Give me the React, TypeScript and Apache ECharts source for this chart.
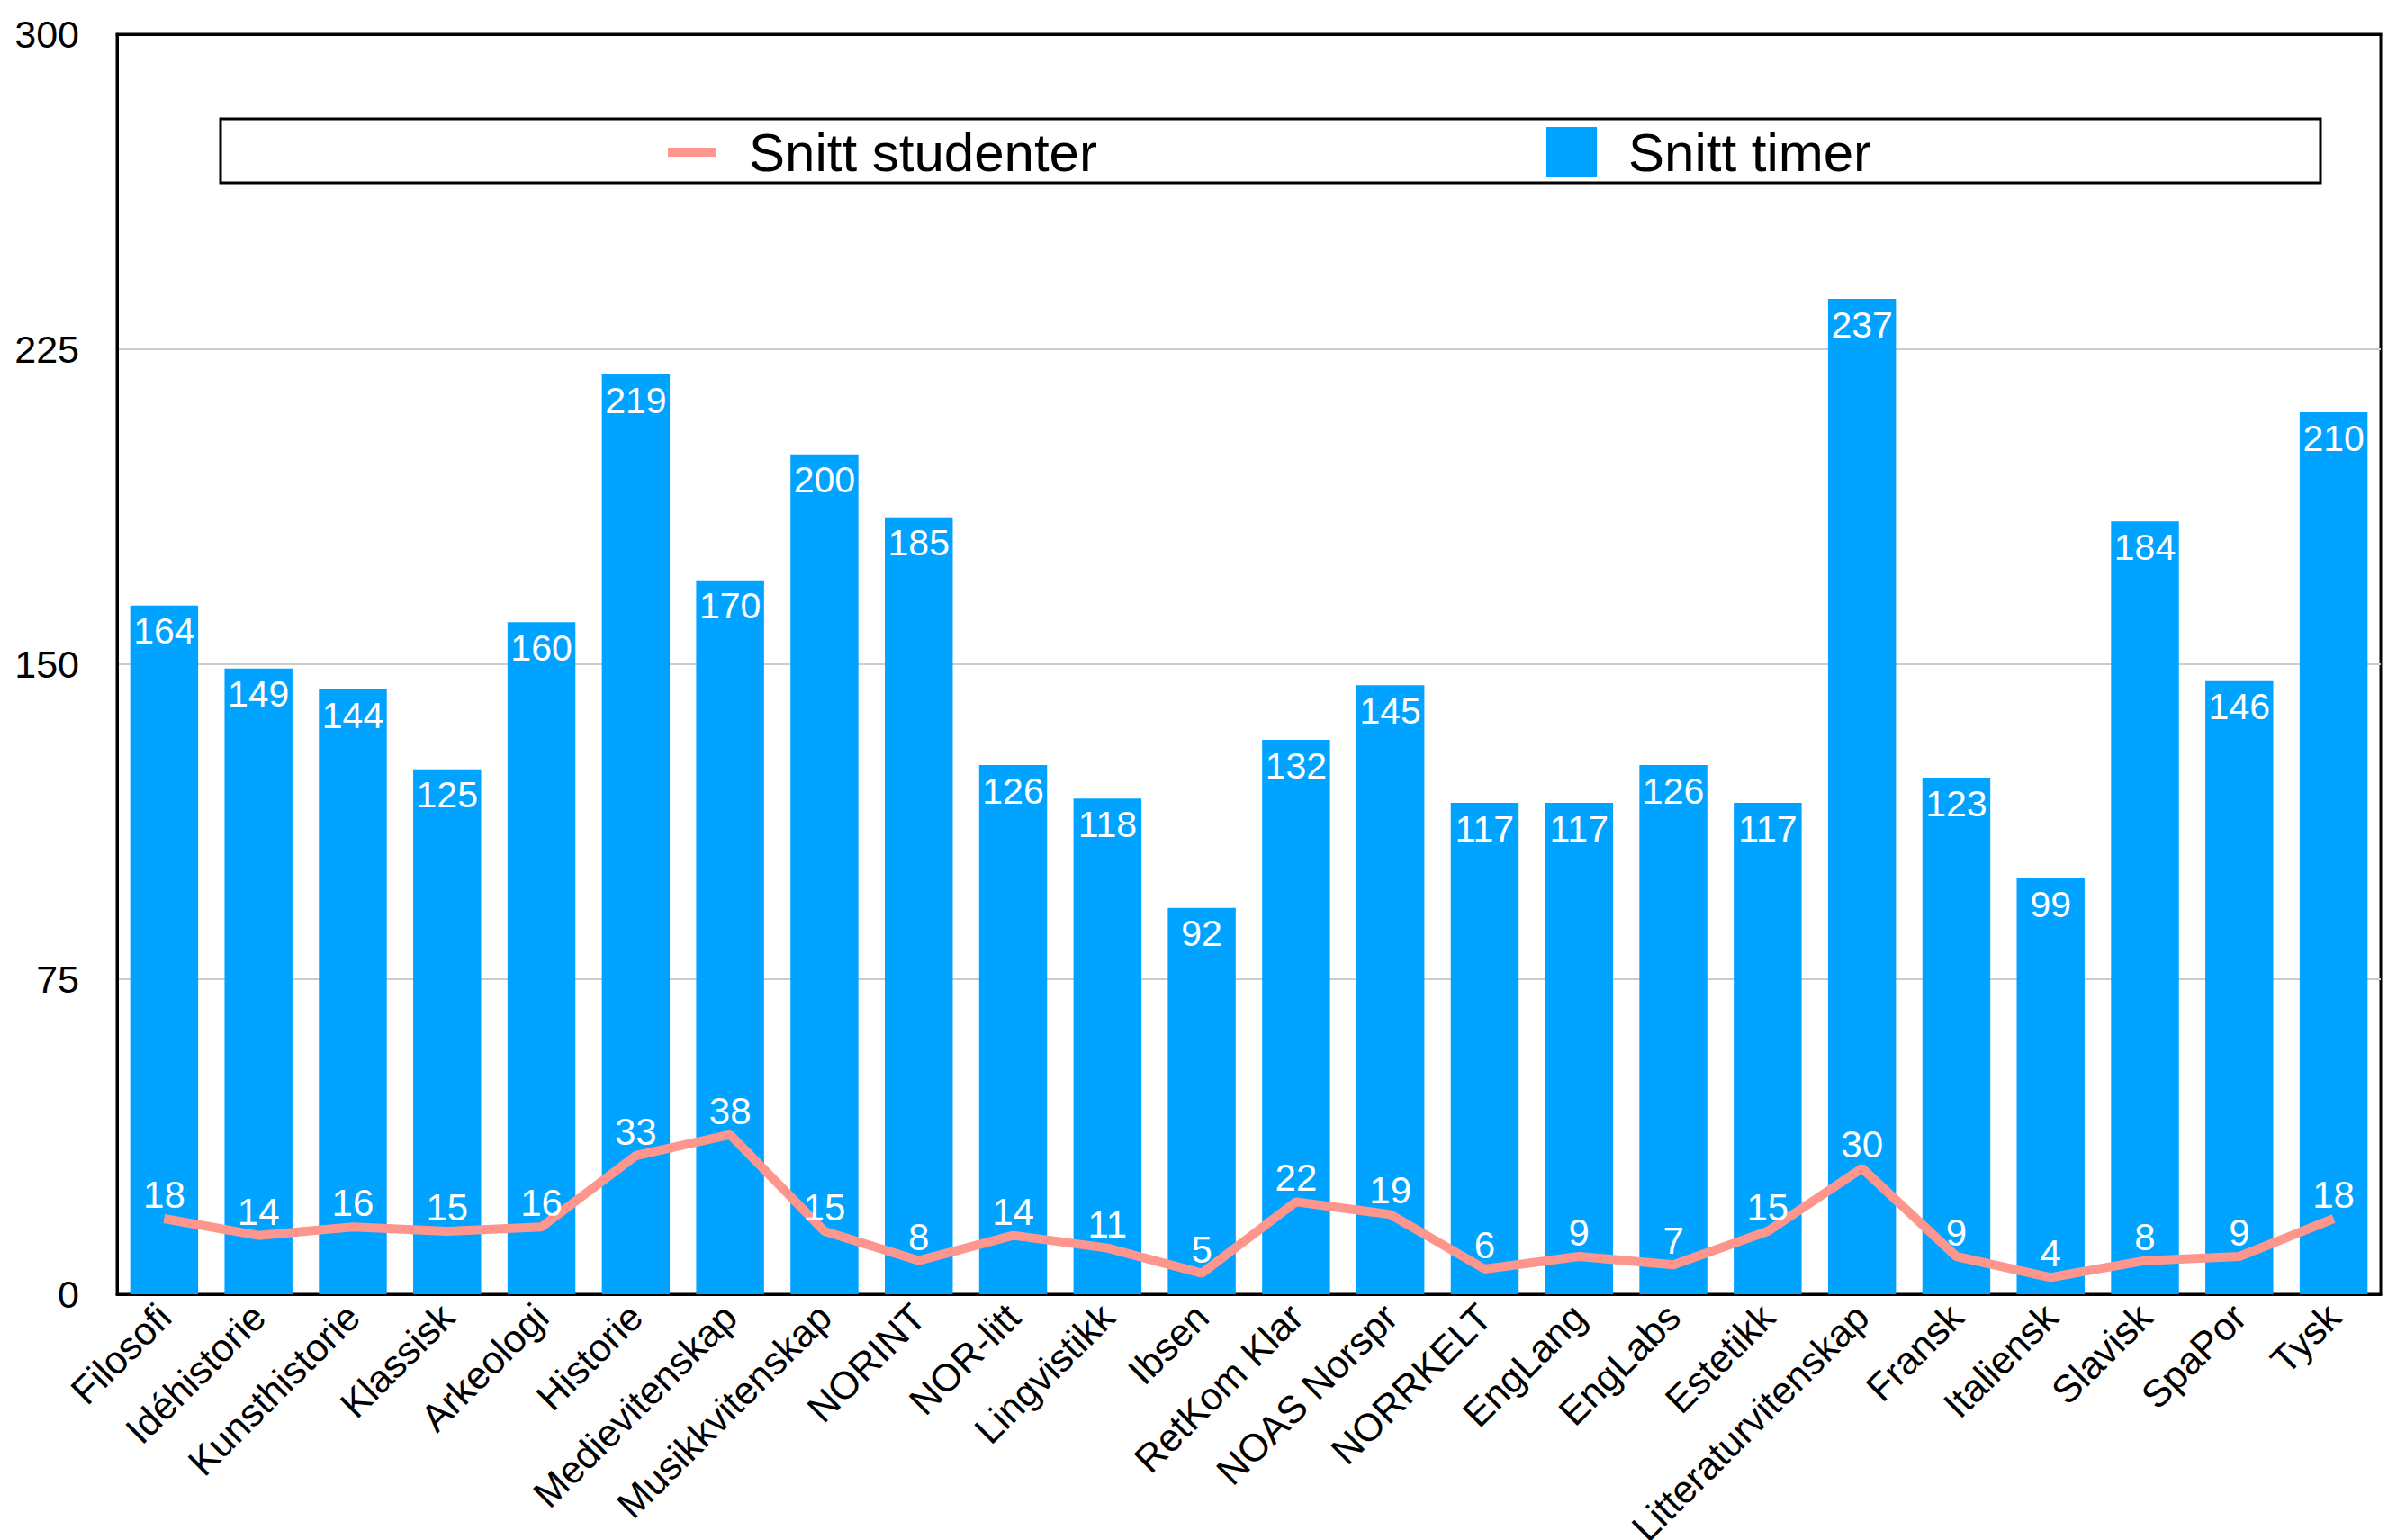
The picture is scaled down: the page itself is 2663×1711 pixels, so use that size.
import React, { useEffect, useRef } from "react";
import * as echarts from "echarts";

const categories = [
  "Filosofi", "Idéhistorie", "Kunsthistorie", "Klassisk", "Arkeologi", "Historie",
  "Medievitenskap", "Musikkvitenskap", "NORINT", "NOR-litt", "Lingvistikk", "Ibsen",
  "RetKom Klar", "NOAS Norspr", "NORRKELT", "EngLang", "EngLabs", "Estetikk",
  "Litteraturvitenskap", "Fransk", "Italiensk", "Slavisk", "SpaPor", "Tysk",
];
const snittTimer = [164, 149, 144, 125, 160, 219, 170, 200, 185, 126, 118, 92, 132, 145, 117, 117, 126, 117, 237, 123, 99, 184, 146, 210];
const snittStudenter = [18, 14, 16, 15, 16, 33, 38, 15, 8, 14, 11, 5, 22, 19, 6, 9, 7, 15, 30, 9, 4, 8, 9, 18];
const yTicks = { min: 0, max: 300, interval: 75 };

const FONT = "Liberation Sans, Arial, Helvetica, sans-serif";
const BAR_COLOR = "#00A3FF";
const LINE_COLOR = "#FF968D";

export default function App() {
  const ref = useRef<HTMLDivElement>(null);
  useEffect(() => {
    document.body.style.margin = "0";
    const chart = echarts.init(ref.current!, null, { renderer: "svg" });
    chart.setOption({
      animation: false,
      backgroundColor: "#ffffff",
      textStyle: { fontFamily: FONT },
      grid: {
        left: 130, right: 18, top: 38, bottom: 273,
        outerBoundsMode: "none",
        containLabel: false,
        show: true, borderColor: "#000", borderWidth: 3, backgroundColor: "transparent",
      },
      graphic: [
        {
          type: "rect",
          shape: { x: 245, y: 132, width: 2333, height: 71 },
          style: { fill: "#fff", stroke: "#000", lineWidth: 3 },
          z: 1,
        },
      ],
      legend: [
        {
          data: [{ name: "Snitt studenter", icon: "rect" }],
          left: 737, top: 134, itemWidth: 53, itemHeight: 10,
          textStyle: { fontSize: 60, color: "#000", fontFamily: FONT, lineHeight: 60, padding: [0, 0, 0, 32] },
          selectedMode: false, z: 10,
        },
        {
          data: [{ name: "Snitt timer", icon: "rect" }],
          left: 1713, top: 134, itemWidth: 56, itemHeight: 56,
          textStyle: { fontSize: 60, color: "#000", fontFamily: FONT, lineHeight: 60, padding: [0, 0, 0, 30] },
          selectedMode: false, z: 10,
        },
      ],
      xAxis: [
        {
          type: "category",
          data: categories,
          axisLine: { show: true, lineStyle: { color: "#000", width: 3 } },
          axisTick: { show: false },
          axisLabel: { rotate: 45, fontSize: 43, color: "#000", margin: 18, interval: 0, fontFamily: FONT },
        },
        {
          type: "category",
          data: categories,
          position: "top",
          axisLine: { show: true, lineStyle: { color: "#000", width: 3 } },
          axisTick: { show: false },
          axisLabel: { show: false },
          z: 10,
        },
      ],
      yAxis: {
        type: "value",
        min: yTicks.min, max: yTicks.max, interval: yTicks.interval,
        axisLine: { show: true, lineStyle: { color: "#000", width: 3 } },
        axisTick: { show: false },
        axisLabel: { fontSize: 43, color: "#000", margin: 42, fontFamily: FONT },
        splitLine: { show: true, lineStyle: { color: "#cccccc", width: 2 } },
      },
      series: [
        {
          name: "Snitt timer",
          type: "bar",
          data: snittTimer,
          barCategoryGap: "28%",
          itemStyle: { color: BAR_COLOR },
          label: { show: true, position: "insideTop", color: "#fff", fontSize: 41, distance: 8, fontFamily: FONT },
          z: 2,
        },
        {
          name: "Snitt studenter",
          type: "line",
          data: snittStudenter,
          symbol: "circle",
          symbolSize: 1,
          showSymbol: true,
          lineStyle: { color: LINE_COLOR, width: 10 },
          itemStyle: { color: LINE_COLOR },
          label: { show: true, position: "top", color: "#fff", fontSize: 42, distance: 5, fontFamily: FONT },
          z: 3,
        },
      ],
    });
    return () => chart.dispose();
  }, []);
  return <div ref={ref} style={{ width: 2663, height: 1711 }} />;
}
